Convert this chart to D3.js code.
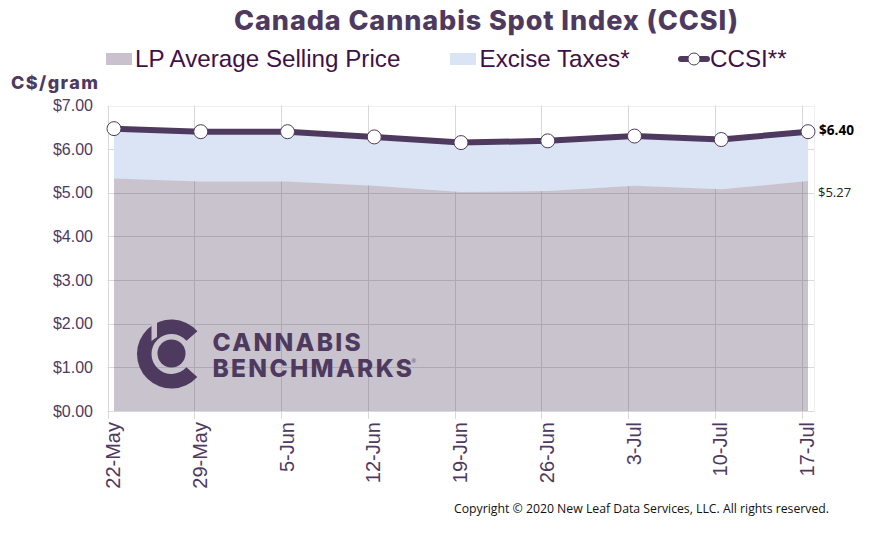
<!DOCTYPE html>
<html>
<head>
<meta charset="utf-8">
<script src="https://cdn.jsdelivr.net/npm/d3@7"></script>
<style>
  html, body { margin: 0; padding: 0; background: #fff; }
  svg { display: block; }
</style>
</head>
<body>
<div id="chart"></div>
<script>
// values
const weeks = ["22-May", "29-May", "5-Jun", "12-Jun", "19-Jun", "26-Jun", "3-Jul", "10-Jul", "17-Jul"];
const lpPrice = [5.33, 5.26, 5.26, 5.16, 5.02, 5.04, 5.16, 5.08, 5.27];
const exciseTaxes = [1.14, 1.14, 1.14, 1.12, 1.13, 1.15, 1.14, 1.14, 1.13];
const ccsi = [6.47, 6.40, 6.40, 6.28, 6.15, 6.19, 6.30, 6.22, 6.40];
const yTicks = [0, 1, 2, 3, 4, 5, 6, 7];

const width = 895, height = 540;
const plot = { left: 107.5, right: 814.5, top: 105.5, bottom: 411 };
const tickShift = 6.5; // gridlines sit left of the points

const purple = "#4f3a5f";
const sans = "'Liberation Sans', Arial, sans-serif";

const svg = d3.select("#chart").append("svg")
  .attr("width", width)
  .attr("height", height);

const x = d3.scalePoint().domain(weeks).range([114, 808]);
const y = d3.scaleLinear().domain([0, 7]).range([plot.bottom, plot.top]);

// grid
const grid = svg.append("g");
grid.selectAll(".h")
  .data(yTicks)
  .join("line")
  .attr("x1", plot.left).attr("x2", plot.right)
  .attr("y1", d => Math.round(y(d)) + 0.5).attr("y2", d => Math.round(y(d)) + 0.5)
  .attr("stroke", d => d === 7 ? "#efefef" : "#d9d9d9");
grid.selectAll(".v")
  .data(weeks)
  .join("line")
  .attr("x1", d => Math.round(x(d) - tickShift) + 0.5).attr("x2", d => Math.round(x(d) - tickShift) + 0.5)
  .attr("y1", plot.top).attr("y2", plot.bottom + 8)
  .attr("stroke", "#d9d9d9");
grid.append("line")
  .attr("x1", plot.right).attr("x2", plot.right)
  .attr("y1", plot.top).attr("y2", plot.bottom)
  .attr("stroke", "#efefef");

// areas
const idx = d3.range(weeks.length);
const lpArea = d3.area()
  .x(i => x(weeks[i]))
  .y0(y(0))
  .y1(i => y(lpPrice[i]));
const exciseArea = d3.area()
  .x(i => x(weeks[i]))
  .y0(i => y(lpPrice[i]))
  .y1(i => y(lpPrice[i] + exciseTaxes[i]));

svg.append("path").datum(idx)
  .attr("d", exciseArea)
  .attr("fill", "#dbe4f4");
svg.append("path").datum(idx)
  .attr("d", lpArea)
  .attr("fill", purple)
  .attr("fill-opacity", 0.307);

// logo sits on top of the grey area
const logo = svg.append("g").attr("transform", "translate(171.5,354)").attr("fill", "#4f3a5f");
logo.append("path")
  .attr("d", d3.arc()({ innerRadius: 20, outerRadius: 34.5, startAngle: 2.3, endAngle: 2 * Math.PI + 0.85 }));
logo.append("circle").attr("r", 14).attr("cy", -0.5);
logo.append("path")
  .attr("d", "M-20,-30L-14.5,-32L-14.5,-17L-20,-13Z")
  .attr("fill", "#c9c1cd");
const logoText = logo.append("text")
  .attr("font-family", "Inter, 'Open Sans', sans-serif")
  .attr("font-weight", 800)
  .attr("font-size", 24.5)
  .attr("letter-spacing", 2.3);
logoText.append("tspan").attr("x", 41).attr("y", -3).text("CANNABIS");
logoText.append("tspan").attr("x", 41).attr("y", 23).text("BENCHMARKS");
logoText.append("tspan")
  .attr("x", 240).attr("y", 9)
  .attr("font-family", sans)
  .attr("font-weight", 400)
  .attr("font-size", 6)
  .attr("letter-spacing", 0)
  .text("®");

// CCSI line and markers
const line = d3.line()
  .x((d, i) => x(weeks[i]))
  .y(d => y(d));
svg.append("path").datum(ccsi)
  .attr("d", line)
  .attr("fill", "none")
  .attr("stroke", purple)
  .attr("stroke-width", 6);
svg.selectAll(".pt")
  .data(ccsi)
  .join("circle")
  .attr("cx", (d, i) => x(weeks[i]))
  .attr("cy", d => y(d))
  .attr("r", 7)
  .attr("fill", "#fff")
  .attr("stroke", purple)
  .attr("stroke-width", 1);

// axes
const yAxis = svg.append("g")
  .attr("transform", "translate(93,0)")
  .call(d3.axisLeft(y).tickValues(yTicks).tickSize(0).tickPadding(0).tickFormat(d3.format("$.2f")));
yAxis.select(".domain").remove();
yAxis.selectAll("text")
  .attr("font-family", sans)
  .attr("font-size", 16)
  .attr("fill", purple);

const xAxis = svg.append("g")
  .attr("transform", `translate(0,${plot.bottom})`)
  .call(d3.axisBottom(x).tickSize(0));
xAxis.select(".domain").remove();
xAxis.selectAll("text")
  .attr("transform", "translate(5.5,11) rotate(-90)")
  .attr("x", 0).attr("y", 0).attr("dy", 0)
  .attr("text-anchor", "end")
  .attr("font-family", sans)
  .attr("font-size", 20)
  .attr("fill", purple);

// title
svg.append("text")
  .attr("x", 486.5).attr("y", 30)
  .attr("text-anchor", "middle")
  .attr("font-family", "Inter, 'DejaVu Sans', sans-serif")
  .attr("font-weight", 800)
  .attr("font-size", 27)
  .attr("letter-spacing", 0.9)
  .attr("fill", purple)
  .text("Canada Cannabis Spot Index (CCSI)");

svg.append("text")
  .attr("x", 11).attr("y", 89)
  .attr("font-family", "Inter, 'DejaVu Sans', sans-serif")
  .attr("font-weight", 800)
  .attr("font-size", 18)
  .attr("letter-spacing", 1.4)
  .attr("fill", purple)
  .text("C$/gram");

// legend
const legendColor = "#3f1147";
const legendText = (lx, t) => svg.append("text")
  .attr("x", lx).attr("y", 67)
  .attr("font-family", sans)
  .attr("font-size", 24.2)
  .attr("fill", legendColor)
  .text(t);
svg.append("rect").attr("x", 106).attr("y", 53).attr("width", 26).attr("height", 12).attr("fill", "#c9c1cd");
legendText(135, "LP Average Selling Price");
svg.append("rect").attr("x", 450).attr("y", 53).attr("width", 26).attr("height", 12).attr("fill", "#dbe4f4");
legendText(479.5, "Excise Taxes*");
svg.append("line")
  .attr("x1", 681).attr("x2", 707).attr("y1", 59).attr("y2", 59)
  .attr("stroke", purple).attr("stroke-width", 6).attr("stroke-linecap", "round");
svg.append("circle").attr("cx", 694).attr("cy", 59).attr("r", 6)
  .attr("fill", "#fff").attr("stroke", purple);
legendText(710, "CCSI**");

// end labels
svg.append("text")
  .attr("x", 819).attr("y", 135)
  .attr("font-family", "'Open Sans', sans-serif")
  .attr("font-weight", 700)
  .attr("font-size", 13.6)
  .attr("fill", "#000")
  .text(d3.format("$.2f")(ccsi[ccsi.length - 1]));
svg.append("text")
  .attr("x", 818).attr("y", 197)
  .attr("font-family", "'Open Sans', sans-serif")
  .attr("font-size", 13)
  .attr("fill", "#222")
  .text(d3.format("$.2f")(lpPrice[lpPrice.length - 1]));

// copyright
svg.append("text")
  .attr("x", 454).attr("y", 513)
  .attr("font-family", "'Open Sans', sans-serif")
  .attr("font-size", 12.25)
  .attr("fill", "#111")
  .text("Copyright © 2020 New Leaf Data Services, LLC. All rights reserved.");
</script>
</body>
</html>
